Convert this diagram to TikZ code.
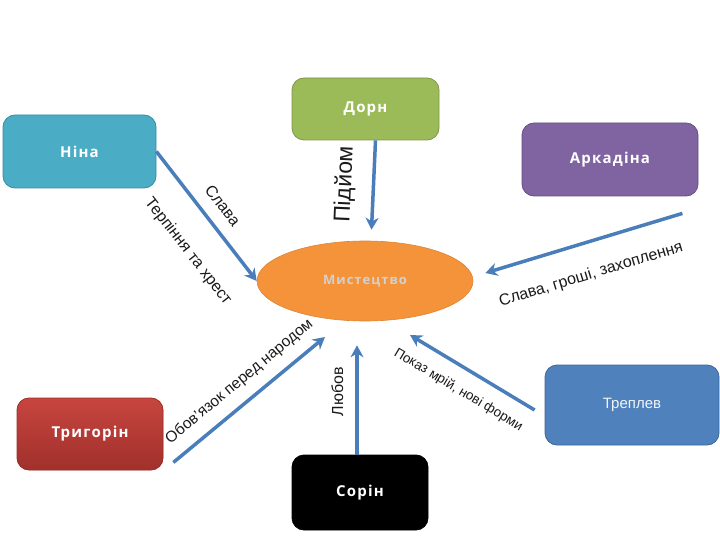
\documentclass[tikz,border=0pt]{standalone}
\usepackage{fontspec}
\setmainfont{Liberation Sans}
\newfontfamily\boxfont[LetterSpace=8]{Open Sans}
\newfontfamily\plainfont{Liberation Sans}
\usepackage{tikz}
\usetikzlibrary{arrows.meta,shapes.geometric}
\definecolor{ninac}{HTML}{4BACC6}
\definecolor{dornc}{HTML}{9BBB59}
\definecolor{arkc}{HTML}{8064A2}
\definecolor{trigc}{HTML}{C43B35}
\definecolor{trepc}{HTML}{4F81BD}
\definecolor{artc}{HTML}{F5933A}
\definecolor{arrowc}{HTML}{4A7EBB}
\definecolor{ink}{HTML}{1A1A1A}

\begin{document}
\begin{tikzpicture}[
    x=1pt, y=-1pt,
    person/.style={rectangle, rounded corners=12pt, draw=#1!80!black, line width=0.8pt,
                   fill=#1, text=white, inner sep=0pt, align=center,
                   font=\boxfont\bfseries\fontsize{15}{17}\selectfont},
    artbox/.style={ellipse, draw=artc!90!black, line width=0.6pt, fill=artc,
                   text=white!82!black, minimum width=216pt, minimum height=80pt,
                   font=\boxfont\bfseries\fontsize{13}{15}\selectfont},
    link/.style={-{Stealth[length=12pt,width=13pt]}, line width=3.5pt, draw=arrowc},
    edgelab/.style={text=ink, inner sep=1pt, font=\fontsize{#1}{#1}\selectfont},
    edgelab/.default=16
]
\useasboundingbox (0,0) rectangle (720,540);

% Central node
\node[artbox] (art) at (365,281) {Мистецтво};

% Characters
\node[person=ninac, minimum width=153pt, minimum height=73pt] (nina) at (79.5,151.5) {Ніна};
\node[person=dornc, minimum width=147pt, minimum height=62pt] (dorn) at (365.5,109) {Дорн};
\node[person=arkc, minimum width=176pt, minimum height=73pt] (ark) at (610,159.5) {Аркадіна};
\node[person=trigc, top color=trigc!95!white, bottom color=trigc!82!black,
      minimum width=146pt, minimum height=72pt] (trig) at (90,434) {Тригорін};
\node[person=trepc, minimum width=174pt, minimum height=80pt, text=white!92!trepc,
      font=\plainfont\fontsize{15}{17}\selectfont] (trep) at (632,405) {Треплев};
\node[person=black, draw=black, minimum width=136pt, minimum height=75pt] (sorin) at (360,492.5) {Сорін};

% Arrows
\draw[link] (nina.east) -- (art.west)
    node[edgelab, pos=0.51, sloped, above=11pt] {Слава}
    node[edgelab, pos=0.6, sloped, below=26pt] {Терпіння та хрест};
\draw[link, shorten >=11pt] ([xshift=10pt]dorn.south) -- ([xshift=6pt]art.north)
    node[edgelab=23, pos=0.45, sloped, above=15pt] {Підйом};
\draw[link] ([shift={(-16pt,-17pt)}]ark.south east) -- ([shift={(12pt,8pt)}]art.east)
    node[edgelab, pos=0.51, sloped, below=22pt] {Слава, гроші, захоплення};
\draw[link] ([shift={(10pt,8pt)}]trig.south east) -- ([shift={(-40pt,-56pt)}]art.center)
    node[edgelab=15.5, pos=0.52, sloped, above=10pt] {Обов’язок перед народом};
\draw[link, shorten >=24pt] ([xshift=-3pt]sorin.north) -- ([xshift=-3pt]sorin.north |- art.south)
    node[edgelab=16, pos=0.47, sloped, above=11pt] {Любов};
\draw[link] ([shift={(-10pt,-5pt)}]trep.west) -- ([shift={(45pt,-54pt)}]art.center)
    node[edgelab=13.5, pos=0.52, sloped, below=13pt] {Показ мрій, нові форми};

\end{tikzpicture}
\end{document}
